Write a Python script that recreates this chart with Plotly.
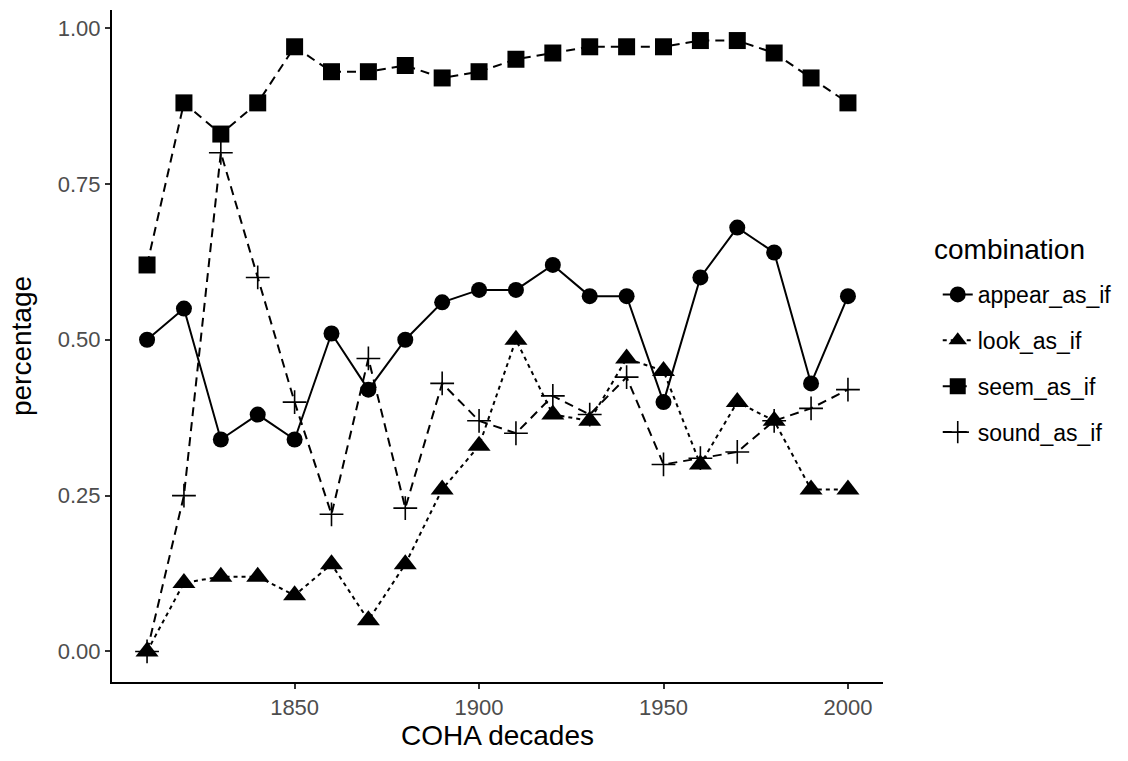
import plotly.graph_objects as go

decades = [1810, 1820, 1830, 1840, 1850, 1860, 1870, 1880, 1890, 1900,
           1910, 1920, 1930, 1940, 1950, 1960, 1970, 1980, 1990, 2000]

appear_as_if = [0.50, 0.55, 0.34, 0.38, 0.34, 0.51, 0.42, 0.50, 0.56, 0.58,
                0.58, 0.62, 0.57, 0.57, 0.40, 0.60, 0.68, 0.64, 0.43, 0.57]
look_as_if = [0.00, 0.11, 0.12, 0.12, 0.09, 0.14, 0.05, 0.14, 0.26, 0.33,
              0.50, 0.38, 0.37, 0.47, 0.45, 0.30, 0.40, 0.37, 0.26, 0.26]
seem_as_if = [0.62, 0.88, 0.83, 0.88, 0.97, 0.93, 0.93, 0.94, 0.92, 0.93,
              0.95, 0.96, 0.97, 0.97, 0.97, 0.98, 0.98, 0.96, 0.92, 0.88]
sound_as_if = [0.00, 0.25, 0.80, 0.60, 0.40, 0.22, 0.47, 0.23, 0.43, 0.37,
               0.35, 0.41, 0.38, 0.44, 0.30, 0.31, 0.32, 0.37, 0.39, 0.42]

y_ticks = [0.0, 0.25, 0.50, 0.75, 1.00]
y_tick_labels = ["0.00", "0.25", "0.50", "0.75", "1.00"]
x_ticks = [1850, 1900, 1950, 2000]

FONT = "Liberation Sans, Arial, Helvetica, sans-serif"

series = [
    ("appear_as_if", appear_as_if, "solid", dict(symbol="circle", size=16)),
    ("look_as_if", look_as_if, "4px,4px", dict(symbol="triangle-up", size=20)),
    ("seem_as_if", seem_as_if, "9px,6px", dict(symbol="square", size=17)),
    ("sound_as_if", sound_as_if, "9px,6px",
     dict(symbol="cross-thin", size=17, line=dict(color="black", width=1.6))),
]

fig = go.Figure()
for name, vals, dash, mk in series:
    fig.add_trace(go.Scatter(
        x=decades, y=vals, name=name, mode="lines+markers",
        legendgroup=name,
        line=dict(color="black", width=2, dash=dash),
        marker=dict(color="black", **mk),
    ))

fig.add_annotation(
    text="combination", xref="paper", yref="paper",
    x=1.0636, y=0.643, xanchor="left", yanchor="middle",
    showarrow=False, font=dict(size=28, color="black"),
)

fig.update_layout(
    width=1128, height=761,
    margin=dict(l=112, r=245, t=10, b=79),
    plot_bgcolor="white", paper_bgcolor="white",
    font=dict(family=FONT, color="black"),
    showlegend=True,
    legend=dict(
        font=dict(size=23, color="black"),
        x=1.071, xanchor="left", y=0.474, yanchor="middle",
        tracegroupgap=13,
        bgcolor="rgba(0,0,0,0)",
    ),
    xaxis=dict(
        range=[1800.5, 2009.5],
        tickmode="array", tickvals=x_ticks,
        tickfont=dict(size=22, color="#4D4D4D"),
        ticks="outside", ticklen=5, tickcolor="#333333", tickwidth=2,
        showline=True, linecolor="black", linewidth=2,
        showgrid=False, zeroline=False,
        title=dict(text="COHA decades", font=dict(size=28, color="black"), standoff=6),
    ),
    yaxis=dict(
        range=[-0.049, 1.029],
        tickmode="array", tickvals=y_ticks, ticktext=y_tick_labels,
        tickfont=dict(size=22, color="#4D4D4D"),
        ticks="outside", ticklen=5, tickcolor="#333333", tickwidth=2,
        showline=True, linecolor="black", linewidth=2,
        showgrid=False, zeroline=False,
        title=dict(text="percentage", font=dict(size=28, color="black"), standoff=18),
    ),
)

fig.write_html("out.html")
